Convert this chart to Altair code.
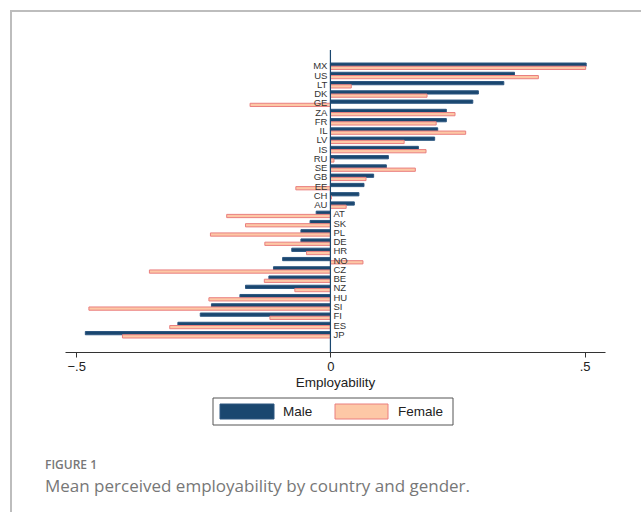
import altair as alt
import pandas as pd

countries = ["MX", "US", "LT", "DK", "GE", "ZA", "FR", "IL", "LV", "IS", "RU", "SE", "GB", "EE", "CH",
             "AU", "AT", "SK", "PL", "DE", "HR", "NO", "CZ", "BE", "NZ", "HU", "SI", "FI", "ES", "JP"]
male = [0.503, 0.362, 0.341, 0.291, 0.280, 0.228, 0.228, 0.211, 0.205, 0.173, 0.114, 0.110, 0.085, 0.066, 0.056,
        0.047, -0.028, -0.040, -0.058, -0.058, -0.076, -0.094, -0.112, -0.121, -0.167, -0.178, -0.234, -0.256, -0.300, -0.482]
female = [0.502, 0.409, 0.041, 0.190, -0.158, 0.245, 0.208, 0.266, 0.145, 0.188, 0.007, 0.167, 0.070, -0.068, 0.002,
          0.031, -0.204, -0.167, -0.236, -0.129, -0.047, 0.064, -0.356, -0.130, -0.070, -0.239, -0.475, -0.119, -0.316, -0.409]
genders = ["Male", "Female"]
fills = ["#1a476f", "#fdc8a6"]
strokes = ["#2c5680", "#ea7f7f"]
x_ticks = [-0.5, 0, 0.5]
x_title = "Employability"
fig_label = ["FIGURE 1"]
fig_caption = ["Mean perceived employability by country and gender."]

rows = []
for c, m, f in zip(countries, male, female):
    rows.append({"country": c, "gender": "Male", "value": m})
    rows.append({"country": c, "gender": "Female", "value": f})
long_df = pd.DataFrame(rows)
wide_df = pd.DataFrame({"country": countries, "male": male})

FONT = "Liberation Sans"
W, H = 540, 302

xscale = alt.Scale(domain=[-0.522, 0.54], nice=False, zero=False)
yscale = alt.Scale(domain=countries, range=[13, 288], paddingInner=0.3, paddingOuter=0)

bars = alt.Chart(long_df).mark_bar(strokeWidth=1, opacity=1).encode(
    x=alt.X("value:Q", scale=xscale,
            axis=alt.Axis(values=x_ticks, title=x_title, grid=False, tickSize=5,
                          labelExpr="datum.value == 0 ? '0' : replace(format(datum.value, '.1f'), '0.', '.')")),
    y=alt.Y("country:N", scale=yscale, axis=None),
    yOffset=alt.YOffset("gender:N", scale=alt.Scale(domain=genders, paddingInner=0, paddingOuter=0)),
    color=alt.Color("gender:N", scale=alt.Scale(domain=genders, range=fills), legend=None),
    stroke=alt.Stroke("gender:N", scale=alt.Scale(domain=genders, range=strokes), legend=None),
)

zero_line = alt.Chart(pd.DataFrame({"z": [0]})).mark_rule(color="#1a476f", strokeWidth=1.2).encode(
    x=alt.X("z:Q", scale=xscale), y=alt.value(0), y2=alt.value(H)
)

lab_pos = alt.Chart(wide_df).transform_filter("datum.male >= 0").mark_text(
    align="right", baseline="middle", dx=-3, font=FONT, fontSize=9.5, color="#333"
).encode(x=alt.datum(0, scale=xscale), y=alt.Y("country:N", scale=yscale, axis=None), text="country:N")

lab_neg = alt.Chart(wide_df).transform_filter("datum.male < 0").mark_text(
    align="left", baseline="middle", dx=3, font=FONT, fontSize=9.5, color="#333"
).encode(x=alt.datum(0, scale=xscale), y=alt.Y("country:N", scale=yscale, axis=None), text="country:N")

one = pd.DataFrame({"a": [0]})

# legend (drawn by hand)
leg_box = alt.Chart(one).mark_rect(fill="white", stroke="#555", strokeWidth=1).encode(
    x=alt.value(148), x2=alt.value(388), y=alt.value(348), y2=alt.value(375)
)
leg_m = alt.Chart(one).mark_rect(fill=fills[0], stroke=strokes[0], strokeWidth=1).encode(
    x=alt.value(155), x2=alt.value(209), y=alt.value(354), y2=alt.value(369)
)
leg_f = alt.Chart(one).mark_rect(fill=fills[1], stroke=strokes[1], strokeWidth=1).encode(
    x=alt.value(270), x2=alt.value(323), y=alt.value(354), y2=alt.value(369)
)
leg_mt = alt.Chart(pd.DataFrame({"t": [genders[0]]})).mark_text(
    align="left", baseline="middle", font=FONT, fontSize=13.5, color="#222"
).encode(x=alt.value(218), y=alt.value(362), text="t:N")
leg_ft = alt.Chart(pd.DataFrame({"t": [genders[1]]})).mark_text(
    align="left", baseline="middle", font=FONT, fontSize=13.5, color="#222"
).encode(x=alt.value(333), y=alt.value(362), text="t:N")

frame_top = alt.Chart(one).mark_rule(color="#bdbdbd", strokeWidth=2).encode(
    x=alt.value(-54), x2=alt.value(580), y=alt.value(-39)
)
frame_left = alt.Chart(one).mark_rule(color="#bdbdbd", strokeWidth=2).encode(
    x=alt.value(-54), y=alt.value(-40), y2=alt.value(470)
)

fig_lab = alt.Chart(pd.DataFrame({"t": fig_label})).mark_text(
    align="left", baseline="middle", font="Open Sans", fontSize=12, fontWeight=600, color="#777"
).encode(x=alt.value(-20), y=alt.value(415), text="t:N")

fig_cap = alt.Chart(pd.DataFrame({"t": fig_caption})).mark_text(
    align="left", baseline="middle", font="Open Sans", fontSize=17, color="#777"
).encode(x=alt.value(-20), y=alt.value(437), text="t:N")

chart = alt.layer(bars, zero_line, lab_pos, lab_neg, leg_box, leg_m, leg_f, leg_mt, leg_ft,
                  frame_top, frame_left, fig_lab, fig_cap).properties(
    width=W, height=H,
    background="white",
    autosize=alt.AutoSizeParams(type="none"),
    padding={"left": 65, "top": 50, "right": 36, "bottom": 160},
).configure_view(stroke=None).configure_axis(
    domainColor="#333", tickColor="#333", labelColor="#222", labelFont=FONT, labelFontSize=13,
    titleFont=FONT, titleFontSize=13.5, titleFontWeight="normal", titleColor="#222", titlePadding=2,
    labelPadding=3
)

chart.save("out.html", embed_options={"renderer": "svg", "actions": False})
